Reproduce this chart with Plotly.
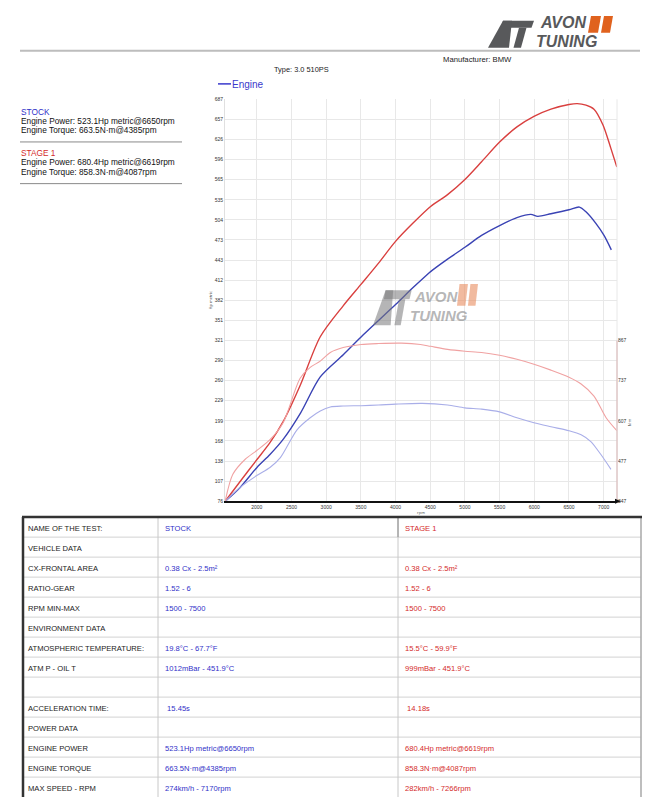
import numpy as np
import plotly.graph_objects as go

W, H = 660, 800
def px(x): return x / W
def py(y): return 1 - y / H

# ---------------- data ----------------
stock_power_rpm = [1545, 1760, 2000, 2190, 2380, 2630, 2915, 3250, 3535, 4000, 4245, 4430, 4505, 4750,
                   5000, 5240, 5500, 5750, 5950, 6050, 6240, 6500, 6650, 6745, 6890, 7005, 7110]
stock_power_hp = [76, 97, 127, 147, 170, 210, 265, 299, 329, 375, 400, 418, 425, 444,
                  462, 480, 495, 507, 512, 509, 513, 519, 523.1, 516, 498, 480, 458]

stage1_power_rpm = [1545, 1760, 2000, 2190, 2380, 2625, 2915, 3245, 3505, 3755, 4000, 4245, 4505, 4750,
                    5000, 5240, 5500, 5750, 5995, 6240, 6500, 6619, 6745, 6860, 6990, 7105, 7190]
stage1_power_hp = [76, 106, 139, 165, 197, 252, 326, 373, 406, 438, 471, 498, 524, 542,
                   565, 592, 622, 645, 661, 672, 679, 680.4, 678, 672, 648, 612, 584]

stock_torque_rpm = [1545, 1760, 2000, 2190, 2340, 2580, 2770, 2915, 3060, 3245, 3505, 3755, 4000,
                    4385, 4750, 5000, 5240, 5500, 5750, 5995, 6240, 6500, 6675, 6815, 6960, 7105]
stock_torque_nm = [347, 392, 430, 456, 488, 578, 617, 639, 652, 655, 656, 658, 661,
                   663.5, 658, 649, 645, 636, 617, 601, 588, 575, 562, 540, 498, 450]

stage1_torque_rpm = [1545, 1655, 1830, 2000, 2190, 2380, 2625, 2770, 2915, 3060, 3245, 3505, 3755, 4087,
                     4360, 4505, 4750, 5000, 5240, 5500, 5750, 5995, 6240, 6500, 6675, 6860, 7035, 7190]
stage1_torque_nm = [347, 434, 482, 511, 546, 601, 745, 780, 800, 828, 844, 854, 857, 858.3,
                    854, 848, 838, 832, 828, 819, 806, 790, 771, 748, 726, 687, 617, 575]

x_tick_vals = [2000, 2500, 3000, 3500, 4000, 4500, 5000, 5500, 6000, 6500, 7000]
x_tick_labels = ["2000", "2500", "3000", "3500", "4000", "4500", "5000", "5500", "6000", "6500", "7000"]
hp_tick_labels = ["76", "107", "138", "168", "199", "229", "260", "290", "321", "351", "382",
                  "412", "443", "473", "504", "535", "565", "596", "626", "657", "687"]
nm_tick_vals = [347, 477, 607, 737, 867]
nm_tick_labels = ["347", "477", "607", "737", "867"]

table_labels = ["NAME OF THE TEST:", "VEHICLE DATA", "CX-FRONTAL AREA", "RATIO-GEAR", "RPM MIN-MAX",
                "ENVIRONMENT DATA", "ATMOSPHERIC TEMPERATURE:", "ATM P - OIL T", "",
                "ACCELERATION TIME:", "POWER DATA", "ENGINE POWER", "ENGINE TORQUE", "MAX SPEED - RPM"]
table_stock = ["STOCK", "", "0.38 Cx - 2.5m²", "1.52 - 6", "1500 - 7500", "", "19.8°C - 67.7°F",
               "1012mBar - 451.9°C", "", "\u00a015.45s", "", "523.1Hp metric@6650rpm",
               "663.5N·m@4385rpm", "274km/h - 7170rpm"]
table_stage1 = ["STAGE 1", "", "0.38 Cx - 2.5m²", "1.52 - 6", "1500 - 7500", "", "15.5°C - 59.9°F",
                "999mBar - 451.9°C", "", "\u00a014.18s", "", "680.4Hp metric@6619rpm",
                "858.3N·m@4087rpm", "282km/h - 7266rpm"]

# ---------------- colours ----------------
BLUE_TXT = "#3030c8"
RED_TXT = "#d42a2a"
C_STOCK_P = "#3a43b4"
C_STOCK_T = "#a9aee8"
C_ST1_P = "#d9403f"
C_ST1_T = "#f0a2a2"

fig = go.Figure()
fig.add_trace(go.Scatter(x=stock_torque_rpm, y=stock_torque_nm, yaxis="y2", mode="lines",
                         line=dict(color=C_STOCK_T, width=1.1, shape="spline", smoothing=0.8), showlegend=False))
fig.add_trace(go.Scatter(x=stage1_torque_rpm, y=stage1_torque_nm, yaxis="y2", mode="lines",
                         line=dict(color=C_ST1_T, width=1.1, shape="spline", smoothing=0.8), showlegend=False))
fig.add_trace(go.Scatter(x=stock_power_rpm, y=stock_power_hp, mode="lines",
                         line=dict(color=C_STOCK_P, width=1.4, shape="spline", smoothing=0.8), showlegend=False))
fig.add_trace(go.Scatter(x=stage1_power_rpm, y=stage1_power_hp, mode="lines",
                         line=dict(color=C_ST1_P, width=1.4, shape="spline", smoothing=0.8), showlegend=False))

hp_tick_vals = list(np.linspace(76, 687, len(hp_tick_labels)))

TICKF = dict(family="Liberation Sans, Arial", size=5, color="#333")
fig.update_layout(
    width=W, height=H, margin=dict(l=0, r=0, t=0, b=0),
    paper_bgcolor="white", plot_bgcolor="white", showlegend=False,
    xaxis=dict(domain=[px(225), px(617)], range=[1542, 7192], tickmode="array",
               tickvals=x_tick_vals, ticktext=x_tick_labels, tickfont=TICKF,
               showgrid=True, gridcolor="#e8e8e8", gridwidth=1, zeroline=False,
               showline=True, linecolor="#111", linewidth=2, ticks="",
               title=dict(text="rpm", font=dict(size=4, color="#444"), standoff=1)),
    yaxis=dict(domain=[py(502), py(97)], range=[76, 687], tickmode="array",
               tickvals=hp_tick_vals, ticktext=hp_tick_labels, tickfont=TICKF,
               showgrid=True, gridcolor="#e8e8e8", gridwidth=1, zeroline=False,
               showline=True, linecolor="#e0e0e0", linewidth=1, ticks="",
               title=dict(text="Hp metric", font=dict(size=4, color="#444"), standoff=2)),
    yaxis2=dict(overlaying="y", side="right", anchor="x", range=[347, 1647], tickmode="array",
                tickvals=nm_tick_vals, ticktext=nm_tick_labels, tickfont=TICKF,
                showgrid=False, zeroline=False, showline=False, ticks=""),
)

shapes = []
annots = []

def line(x0, y0, x1, y1, color, width):
    shapes.append(dict(type="line", xref="paper", yref="paper", x0=px(x0), y0=py(y0),
                       x1=px(x1), y1=py(y1), line=dict(color=color, width=width)))

def poly(points, color):
    d = "M " + " L ".join(f"{px(x):.5f},{py(y):.5f}" for x, y in points) + " Z"
    shapes.append(dict(type="path", xref="paper", yref="paper", path=d,
                       fillcolor=color, line=dict(width=0)))

def text(x, y, s, size, color, anchor="left", family="Liberation Sans, Arial", yanchor="middle", **kw):
    annots.append(dict(x=px(x), y=py(y), xref="paper", yref="paper", text=s, showarrow=False,
                       xanchor=anchor, yanchor=yanchor, borderpad=0,
                       font=dict(family=family, size=size, color=color), **kw))

# right edge of plot & right axis segment
line(617, 97, 617, 502, "#e8e8e8", 1)
shapes.append(dict(type="line", xref="paper", yref="y2", x0=px(617), x1=px(617), y0=347, y1=867,
                   line=dict(color="#d8b4b4", width=1)))
# x axis arrow
poly([(615, 499.5), (621, 502), (615, 504.5)], "#111")
# N·m axis title
annots.append(dict(x=px(634), y=py(423), xref="paper", yref="paper", text="N·m", showarrow=False,
                   textangle=-90, font=dict(family="Liberation Sans, Arial", size=4, color="#444")))

# ---------------- logo ----------------
def logo(ox, oy, sx, sy, grey, orange, tsize, split):
    P = lambda pts: [(ox + x * sx, oy + y * sy) for x, y in pts]
    poly(P([(15, 5), (46, 5), (43.5, 12), (13, 12)]), grey)
    poly(P([(15, 5), (24, 5), (21, 32), (0, 32)]), grey)
    poly(P([(31, 12), (38.5, 12), (33, 32), (25.5, 32)]), grey)
    poly(P([(103, 0), (113, 0), (110, 17), (100, 17)]), orange)
    poly(P([(116, 0), (125, 0), (122, 17), (113, 17)]), orange)
    fam = "Liberation Sans Narrow, Liberation Sans, Arial"
    text(ox + 74.5 * sx, oy + split * sy, "<b><i>AVON</i></b>", tsize, grey, anchor="center",
         family=fam, yanchor="bottom")
    text(ox + 78 * sx, oy + split * sy, "<b><i>TUNING</i></b>", tsize, grey, anchor="center",
         family=fam, yanchor="top")

logo(488, 13, 1.0, 1.0, "#58595b", "#e0621e", 16, 15.8)
logo(373, 283, 0.84, 1.3, "rgba(120,120,122,0.55)", "rgba(232,140,95,0.6)", 15, 17.3)

# header
line(20, 48, 640, 48, "#bdbdbd", 2)
text(442, 57, "Manufacturer: BMW", 7.7, "#222")
text(273, 67, "Type: 3.0 510PS", 7.4, "#222")
line(218, 81.5, 231, 81.5, "#3a3acc", 1.5)
text(231, 82, "Engine", 10, "#3a3acc")

# left summary
LF = 8.3
text(20, 109.5, "STOCK", LF, BLUE_TXT)
text(20, 118.7, "Engine Power: " + table_stock[11], LF, "#111")
text(20, 127.9, "Engine Torque: " + table_stock[12], LF, "#111")
line(20, 140, 182, 140, "#8a8a8a", 1)
text(20, 151.5, "STAGE 1", LF, RED_TXT)
text(20, 160.7, "Engine Power: " + table_stage1[11], LF, "#111")
text(20, 169.9, "Engine Torque: " + table_stage1[12], LF, "#111")
line(20, 182, 182, 182, "#8a8a8a", 1)

# ---------------- table ----------------
T_TOP, RH = 518, 20.15
n = len(table_labels)
for i in range(1, n):
    line(23, T_TOP + RH * i, 641, T_TOP + RH * i, "#d2d2d2", 1)
line(158, T_TOP, 158, 800, "#c8c8c8", 1)
line(398, T_TOP, 398, 800, "#c8c8c8", 1)
line(398, T_TOP, 398, T_TOP + RH, "#888", 1)
line(641, T_TOP, 641, 800, "#a8a8a8", 1.5)
line(22, T_TOP, 642, T_TOP, "#333", 2.5)
line(23, T_TOP, 23, 800, "#333", 2.5)
TF = 7.6
for i in range(n):
    yc = T_TOP + RH * i + 11
    if table_labels[i]:
        text(27, yc, table_labels[i], TF, "#222")
    if table_stock[i]:
        text(164, yc, table_stock[i], TF, BLUE_TXT)
    if table_stage1[i]:
        text(404, yc, table_stage1[i], TF, RED_TXT)

fig.update_layout(shapes=shapes, annotations=annots)
fig.write_html("out.html")
